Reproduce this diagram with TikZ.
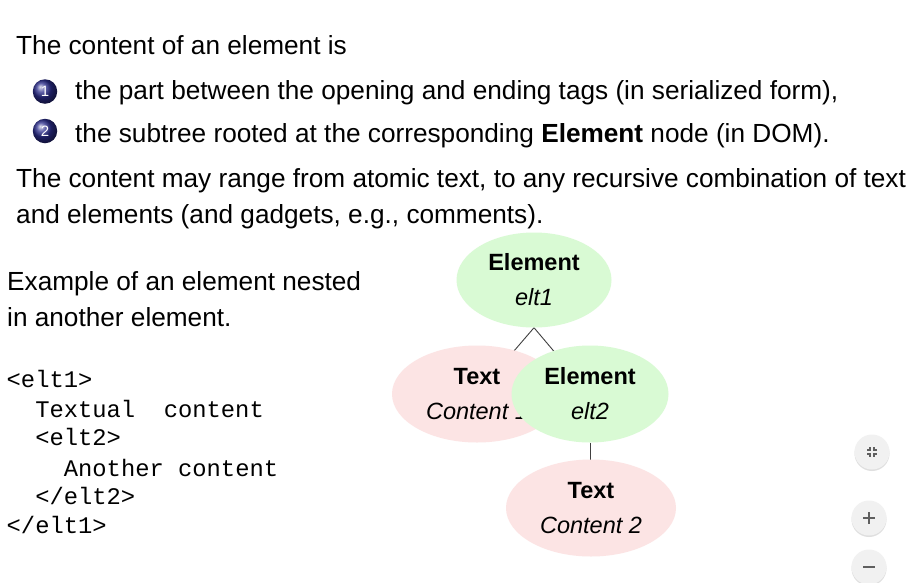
\documentclass[tikz,border=0pt]{standalone}
\usepackage{fontspec}
\setmainfont{Liberation Sans}
\setmonofont{Liberation Mono}
\usetikzlibrary{shapes.geometric,backgrounds,shadows}
\definecolor{elemgreen}{HTML}{D9FAD4}
\definecolor{textpink}{HTML}{FCE4E4}
\definecolor{edgegray}{HTML}{404040}
\definecolor{bulletblue}{HTML}{2A2C8C}
\definecolor{btnfill}{HTML}{F1F1F1}
\definecolor{btnicon}{HTML}{5F5F5F}

\begin{document}
\begin{tikzpicture}[x=1pt,y=-1pt,
  body/.style={anchor=base west, inner sep=0pt, font=\fontsize{26.2}{31}\selectfont},
  code/.style={anchor=base west, inner sep=0pt, font=\fontsize{23.8}{29}\ttfamily},
  treenode/.style={ellipse, inner sep=0pt, align=center, font=\fontsize{23.5}{35}\selectfont},
  elemnode/.style={treenode, fill=elemgreen, minimum width=155pt, minimum height=95pt},
  textnode/.style={treenode, fill=textpink, minimum width=170pt, minimum height=97pt},
  treeedge/.style={draw=edgegray, line width=0.9pt},
  bullet/.style={circle, ball color=bulletblue, minimum size=24.5pt, inner sep=0pt,
    text=white, font=\fontsize{15}{15}\selectfont},
  zoombtn/.style={circle, fill=btnfill, minimum size=35pt, inner sep=0pt,
    drop shadow={shadow xshift=0pt, shadow yshift=-1.5pt, opacity=0.25, fill=gray}},
  iconline/.style={draw=btnicon, line width=1.4pt},
]
% page area
\useasboundingbox (0,0) rectangle (908,582);
\begin{pgfonlayer}{background}
  \fill[white] (0,0) rectangle (908,582);
\end{pgfonlayer}

% introductory text
\node[body] (l1) at (16,54) {The content of an element is};
\node[bullet] (b1) at (45,91.5) {1};
\node[body] (l2) at (75,99) {the part between the opening and ending tags (in serialized form),};
\node[bullet] (b2) at (45,131) {2};
\node[body] (l3) at (75,142) {the subtree rooted at the corresponding \textbf{Element} node (in DOM).};
\node[body] (l4) at (16,187) {The content may range from atomic text, to any recursive combination of text};
\node[body] (l5) at (16,223) {and elements (and gadgets, e.g., comments).};
\node[body] (l6) at (7,290) {Example of an element nested};
\node[body] (l7) at (7,326) {in another element.};

% serialized form
\node[code] (c1) at (6.5,387) {<elt1>};
\node[code] (c2) at (35.1,417) {Textual\ \ content};
\node[code] (c3) at (35.1,445) {<elt2>};
\node[code] (c4) at (63.7,476) {Another content};
\node[code] (c5) at (35.1,504) {</elt2>};
\node[code] (c6) at (6.5,533) {</elt1>};

% DOM tree
\node[elemnode] (e1) at (534,280) {\textbf{Element}\\\textit{elt1}};
\node[textnode] (t1) at (477,394) {\textbf{Text}\\\textit{Content 1}};
\node[elemnode, minimum width=157pt, minimum height=97pt] (e2) at (590,394) {\textbf{Element}\\\textit{elt2}};
\node[textnode] (t2) at (591,508) {\textbf{Text}\\\textit{Content 2}};
\begin{pgfonlayer}{background}
  \draw[treeedge] (e1.south) -- (t1.center);
  \draw[treeedge] (e1.south) -- (e2.center);
  \draw[treeedge] (e2.south) -- (e2.south |- t2.center);
\end{pgfonlayer}

% viewer buttons
\node[zoombtn] (zfit) at (872,452) {};
\node[zoombtn] (zin) at (869,518) {};
\node[zoombtn] (zout) at (869,567) {};
\begin{scope}[shift={(zfit)}]
  \draw[iconline] (-5,-2) -- (-2,-2) -- (-2,-5);
  \draw[iconline] (5,-2) -- (2,-2) -- (2,-5);
  \draw[iconline] (-5,2) -- (-2,2) -- (-2,5);
  \draw[iconline] (5,2) -- (2,2) -- (2,5);
\end{scope}
\draw[iconline, shift={(zin)}] (-6,0) -- (6,0) (0,-6) -- (0,6);
\draw[iconline, shift={(zout)}] (-6,0) -- (6,0);
\end{tikzpicture}
\end{document}
